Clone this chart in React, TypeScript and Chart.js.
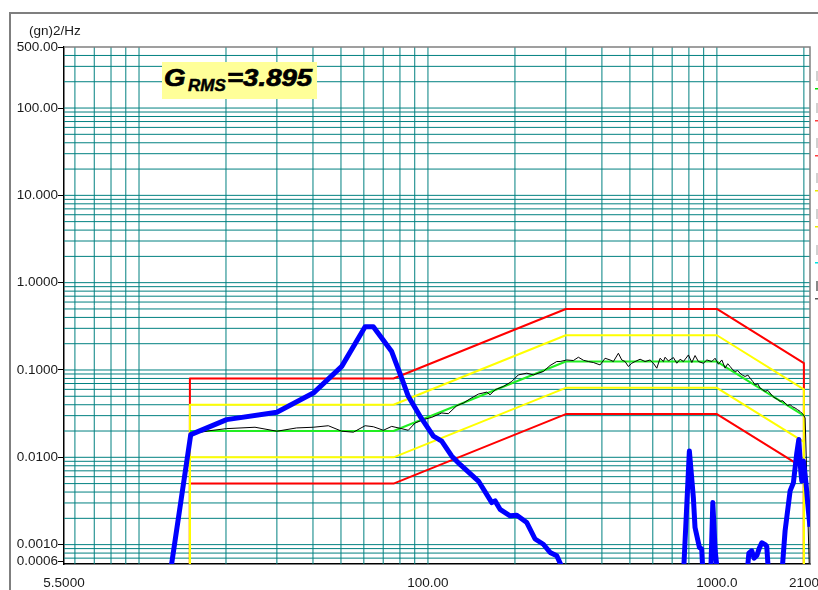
import React, { useEffect, useRef } from 'react';
import { Chart, registerables } from 'chart.js';

Chart.register(...registerables);

// ---------- data ----------
// Tolerance profile break points (Hz)
const tolFreq = [15, 15, 76, 300, 1000, 2000, 2000];
const redUpperVals = [1e-5, 0.08, 0.08, 0.5, 0.5, 0.12, 1e-5];
const yellowUpperVals = [1e-5, 0.04, 0.04, 0.25, 0.25, 0.06, 1e-5];
const yellowLowerVals = [1e-5, 0.01, 0.01, 0.0625, 0.0625, 0.015, 1e-5];
const redLowerVals = [1e-5, 0.005, 0.005, 0.03125, 0.03125, 0.0075, 1e-5];

// Reference (demand) profile
const refFreq = [15, 76, 300, 1000, 2000];
const refVals = [0.02, 0.02, 0.125, 0.125, 0.03];

// Control (measured) PSD
const blackFreq = [
  13.0, 15.1, 17.6, 20.1, 25.2, 30.0, 35.1, 40.1, 45.2, 50.3, 55.2, 60.6, 64.7, 70.1, 74.9,
  80.0, 85.5, 90.2, 96.4, 103.1, 111.6, 117.6, 125.8, 132.6, 139.9, 149.5, 159.8, 164.0,
  170.7, 182.4, 195.0, 205.5, 219.8, 231.6, 250.8, 264.6, 279.1, 286.7, 302.2, 318.6, 331.6,
  345.1, 359.1, 373.7, 394.2, 410.2, 426.9, 438.3, 456.1, 468.6, 481.0, 494.0, 507.4, 521.1,
  542.2, 564.2, 587.2, 602.9, 619.4, 636.0, 653.0, 661.9, 679.4, 707.0, 726.5, 746.0, 765.8,
  797.0, 819.0, 840.4, 862.9, 898.0, 922.9, 960.3, 985.6, 1012, 1040, 1068, 1090, 1111, 1135,
  1156, 1180, 1203, 1228, 1252, 1280, 1303, 1330, 1356, 1385, 1411, 1440, 1468, 1500, 1528,
  1560, 1590, 1620, 1655, 1690, 1722, 1755, 1792, 1830, 1865, 1900, 1940, 1965, 1992, 2020,
  2090,
];
const blackVals = [
  0.0005, 0.0185, 0.0202, 0.0213, 0.0221, 0.0199, 0.0217, 0.0221, 0.0230, 0.0199, 0.0194,
  0.0230, 0.0224, 0.0204, 0.0226, 0.0215, 0.0204, 0.0247, 0.0270, 0.0287, 0.0322, 0.0316,
  0.0390, 0.0418, 0.0468, 0.0530, 0.0558, 0.0520, 0.0593, 0.0648, 0.0739, 0.0879, 0.0919,
  0.0879, 0.0961, 0.1125, 0.125, 0.125, 0.1303, 0.1283, 0.140, 0.1293, 0.125, 0.1218, 0.1143,
  0.1363, 0.1303, 0.125, 0.1555, 0.1303, 0.125, 0.1096, 0.1195, 0.125, 0.1328, 0.125, 0.1303,
  0.1195, 0.1048, 0.1363, 0.125, 0.140, 0.127, 0.1388, 0.1195, 0.1328, 0.125, 0.1487, 0.1218,
  0.1463, 0.125, 0.1195, 0.1303, 0.125, 0.1363, 0.1164, 0.1303, 0.1048, 0.118, 0.1096, 0.1005,
  0.0961, 0.0985, 0.0919, 0.087, 0.0843, 0.0875, 0.0806, 0.074, 0.0676, 0.0695, 0.062, 0.0595,
  0.0569, 0.0585, 0.0544, 0.050, 0.0477, 0.0462, 0.0437, 0.0445, 0.0418, 0.0392, 0.040, 0.0378,
  0.0367, 0.0352, 0.0336, 0.0322, 0.0308, 0.0282, 0.0005,
];

// Response (monitor) PSD, thick blue
const blueFreq = [
  12.47, 15.1, 20.1, 30.0, 40.1, 50.3, 60.6, 64.7, 74.9, 81.1, 85.5, 93.9, 96.4, 104.4, 111.6,
  120.9, 129.1, 149.5, 166.3, 170.7, 177.6, 192.4, 203, 219.8, 234.8, 250.8, 264.6, 279.1,
  291.1, 320, 700, 759.5, 803, 829, 840, 870, 886, 903, 947, 968, 986, 1026, 1252, 1290, 1320,
  1345, 1375, 1400, 1430, 1470, 1488, 1528, 1655, 1722, 1792, 1840, 1890, 1921, 1951, 1967,
  1992, 2036, 2073, 2100,
];
const blueVals = [
  0.00025, 0.0182, 0.0270, 0.0328, 0.0544, 0.110, 0.313, 0.313, 0.1625, 0.0806, 0.0499, 0.0295,
  0.0259, 0.01745, 0.0153, 0.0103, 0.00828, 0.00535, 0.00303, 0.00317, 0.00254, 0.00214,
  0.00217, 0.00179, 0.00116, 0.00101, 0.000815, 0.000747, 0.00055, 0.0003, 0.0003, 0.00025,
  0.0118, 0.00345, 0.00157, 0.00093, 0.00089, 0.00025, 0.00025, 0.00303, 0.00086, 0.00025,
  0.00025, 0.0008, 0.00085, 0.0007, 0.00075, 0.0009, 0.00105, 0.001, 0.00095, 0.00025, 0.00025,
  0.00144, 0.00412, 0.00512, 0.0112, 0.016, 0.00696, 0.00535, 0.00905, 0.0049, 0.00244, 0.0016,
];

// Axes
const xMin = 5.5;
const xMax = 2100;
const yMin = 0.00064;
const yMax = 500;
const xLabelValues = [5.5, 100, 1000];
const xLabelTexts = ['5.5000', '100.00', '1000.0'];
const xEndLabel = '2100';
const yLabelValues = [0.00064, 0.001, 0.01, 0.1, 1, 10, 100, 500];
const yLabelTexts = ['0.0006', '0.0010', '0.0100', '0.1000', '1.0000', '10.000', '100.00', '500.00'];

const FONT = "'Liberation Sans', Arial, Helvetica, sans-serif";

function decadeGrid(min: number, max: number): number[] {
  const out: number[] = [];
  for (let e = -5; e <= 4; e++) {
    for (let m = 1; m <= 9; m++) {
      const v = m * Math.pow(10, e);
      if (v > min * 1.0001 && v < max * 0.9999) out.push(v);
    }
  }
  return out;
}
const xGridValues = decadeGrid(xMin, xMax);
const yGridValues = decadeGrid(yMin, yMax);

const same = (a: number, b: number) => Math.abs(a / b - 1) < 1e-6;
const labelFor = (vals: number[], texts: string[], v: number) => {
  const i = vals.findIndex((lv) => same(lv, v));
  return i >= 0 ? texts[i] : '';
};

const pts = (xs: number[], ys: number[]) => xs.map((x, i) => ({ x, y: ys[i] }));

export default function App() {
  const ref = useRef<HTMLCanvasElement>(null);

  useEffect(() => {
    document.body.style.margin = '0';
    const canvas = ref.current;
    if (!canvas) return;

    const decor = {
      id: 'decor',
      beforeDraw(chart: any) {
        const ctx = chart.ctx;
        ctx.save();
        ctx.fillStyle = '#fff';
        ctx.fillRect(0, 0, chart.width, chart.height);
        ctx.fillStyle = '#7f7f7f';
        ctx.fillRect(9, 12, chart.width, 2);
        ctx.fillRect(9, 12, 2, chart.height);
        ctx.restore();
      },
      beforeDatasetsDraw(chart: any) {
        const { ctx, chartArea: a, scales } = chart;
        ctx.save();
        ctx.beginPath();
        ctx.rect(a.left, a.top, a.right - a.left, a.bottom - a.top);
        ctx.clip();
        ctx.strokeStyle = '#008080';
        ctx.lineWidth = 1;
        for (const v of xGridValues) {
          const px = scales.x.getPixelForValue(v);
          ctx.beginPath();
          ctx.moveTo(px, a.top);
          ctx.lineTo(px, a.bottom);
          ctx.stroke();
        }
        for (const v of yGridValues) {
          const py = scales.y.getPixelForValue(v);
          ctx.beginPath();
          ctx.moveTo(a.left, py);
          ctx.lineTo(a.right, py);
          ctx.stroke();
        }
        ctx.restore();
        ctx.save();
        ctx.strokeStyle = '#808080';
        ctx.lineWidth = 1.5;
        ctx.beginPath();
        ctx.moveTo(a.left, a.top);
        ctx.lineTo(a.right, a.top);
        ctx.lineTo(a.right, a.bottom);
        ctx.stroke();
        ctx.restore();
      },
      afterDraw(chart: any) {
        const { ctx, chartArea: a, scales } = chart;
        ctx.save();
        ctx.fillStyle = '#1a1a1a';
        ctx.font = `13.5px ${FONT}`;
        ctx.textAlign = 'left';
        ctx.textBaseline = 'alphabetic';
        ctx.fillText('(gn)2/Hz', 29, 34.5);
        // end-of-axis label, shifted left as in the original (it runs off the page)
        const endPx = scales.x.getPixelForValue(xMax);
        ctx.textAlign = 'center';
        ctx.textBaseline = 'middle';
        ctx.fillText(xEndLabel, endPx - 6, a.bottom + 19);
        // clipped legend fragments at the right edge
        const items = [
          [71, '#00dd00'],
          [103, '#ff4040'],
          [138, '#ff4040'],
          [173, '#e8e800'],
          [209, '#e8e800'],
          [245, '#00e0e0'],
          [281, '#555555'],
        ];
        items.forEach(([y, c]: any) => {
          ctx.fillStyle = y === 281 ? '#888' : '#d0d0d0';
          ctx.fillRect(816, y, 2, 10);
          ctx.fillStyle = c;
          ctx.fillRect(815, y + 17, 3, 1.5);
        });
        ctx.restore();
      },
    };

    const lineDs = (label: string, data: any[], color: string, width: number, order: number) => ({
      label,
      data,
      borderColor: color,
      backgroundColor: color,
      borderWidth: width,
      pointRadius: 0,
      pointHoverRadius: 0,
      showLine: true,
      fill: false,
      tension: 0,
      clip: 0,
      order,
      borderJoinStyle: 'round' as const,
    });

    const chart = new Chart(canvas, {
      type: 'scatter',
      data: {
        datasets: [
          lineDs('Monitor', pts(blueFreq, blueVals), '#0000ff', 5, 0),
          lineDs('Control', pts(blackFreq, blackVals), '#000000', 1, 1),
          lineDs('Demand', pts(refFreq, refVals), '#22ee22', 2, 2),
          lineDs('Upper alarm', pts(tolFreq, yellowUpperVals), '#ffff00', 2, 3),
          lineDs('Lower alarm', pts(tolFreq, yellowLowerVals), '#ffff00', 2, 3),
          lineDs('Upper abort', pts(tolFreq, redUpperVals), '#ff0000', 2, 4),
          lineDs('Lower abort', pts(tolFreq, redLowerVals), '#ff0000', 2, 4),
        ],
      },
      options: {
        responsive: false,
        animation: false,
        devicePixelRatio: 1,
        layout: { padding: { top: 47, right: 8, bottom: 0, left: 0 } },
        plugins: {
          legend: { display: false },
          tooltip: { enabled: false },
          title: { display: false },
        },
        scales: {
          x: {
            type: 'logarithmic',
            min: xMin,
            max: xMax,
            afterBuildTicks: (s: any) => {
              s.ticks = [xMin, ...xGridValues, xMax].map((v) => ({ value: v }));
            },
            afterFit: (s: any) => {
              s.height = 26;
              s.paddingLeft = 0;
              s.paddingRight = 0;
            },
            grid: { display: true, drawOnChartArea: false, drawTicks: false },
            border: { display: true, color: '#000', width: 1.5 },
            ticks: {
              autoSkip: false,
              maxRotation: 0,
              minRotation: 0,
              padding: 11,
              color: '#1a1a1a',
              font: { family: FONT, size: 13.5 },
              callback: (v: any) => labelFor(xLabelValues, xLabelTexts, Number(v)),
            },
          },
          y: {
            type: 'logarithmic',
            min: yMin,
            max: yMax,
            afterBuildTicks: (s: any) => {
              s.ticks = [yMin, ...yGridValues, yMax].map((v) => ({ value: v }));
            },
            afterFit: (s: any) => {
              s.width = 64;
              s.paddingTop = 0;
              s.paddingBottom = 0;
            },
            grid: {
              display: true,
              drawOnChartArea: false,
              drawTicks: true,
              tickLength: 6,
              tickWidth: 1,
              tickColor: (c: any) =>
                c.tick && labelFor(yLabelValues, yLabelTexts, c.tick.value) ? '#000' : 'rgba(0,0,0,0)',
            },
            border: { display: true, color: '#000', width: 1.5 },
            ticks: {
              autoSkip: false,
              padding: 0,
              color: '#1a1a1a',
              font: { family: FONT, size: 13.5 },
              callback: (v: any) => labelFor(yLabelValues, yLabelTexts, Number(v)),
            },
          },
        },
      } as any,
      plugins: [decor],
    });

    return () => chart.destroy();
  }, []);

  const big: React.CSSProperties = {
    position: 'absolute',
    fontFamily: FONT,
    fontWeight: 'bold',
    fontStyle: 'italic',
    fontSize: 23,
    lineHeight: 1,
    color: '#000',
    whiteSpace: 'nowrap',
    transform: 'scaleX(1.2)',
    transformOrigin: 'left top',
    WebkitTextStroke: '0.7px #000',
  };

  return (
    <div
      style={{
        position: 'fixed',
        left: 0,
        top: 0,
        width: 818,
        height: 590,
        overflow: 'hidden',
        background: '#fff',
      }}
    >
      <canvas ref={ref} width={818} height={590} style={{ display: 'block' }} />
      <div
        style={{
          position: 'absolute',
          left: 162,
          top: 62,
          width: 155,
          height: 37,
          background: '#ffff99',
        }}
      />
      <span style={{ ...big, left: 164, top: 67.2 }}>G</span>
      <span
        style={{
          position: 'absolute',
          left: 188,
          top: 76.6,
          fontFamily: FONT,
          fontWeight: 'bold',
          fontStyle: 'italic',
          fontSize: 17,
          lineHeight: 1,
          color: '#000',
          whiteSpace: 'nowrap',
          WebkitTextStroke: '0.5px #000',
        }}
      >
        RMS
      </span>
      <span style={{ ...big, left: 227, top: 67.2 }}>=3.895</span>
    </div>
  );
}
